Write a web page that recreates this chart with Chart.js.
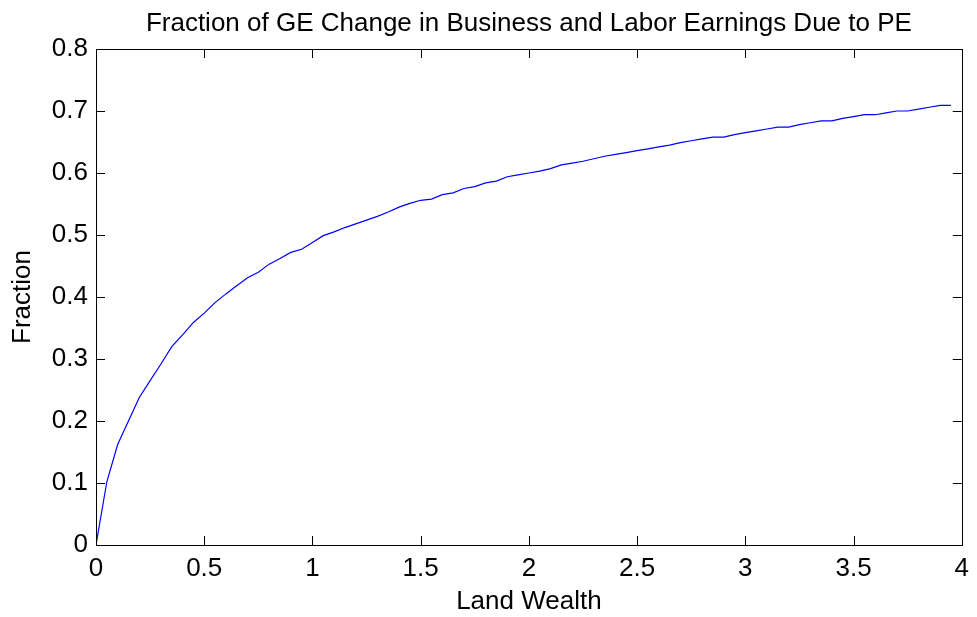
<!DOCTYPE html>
<html>
<head>
<meta charset="utf-8">
<script src="https://cdn.jsdelivr.net/npm/chart.js@4"></script>
<style>
  html, body { margin: 0; padding: 0; background: #fff; }
  #wrap { width: 977px; height: 617px; }
</style>
</head>
<body>
<div id="wrap"><canvas id="c"></canvas></div>
<script>
// land wealth grid (step 0.05) and fraction
const landWealth = [
  0, 0.05, 0.1, 0.15, 0.2, 0.25, 0.3, 0.35, 0.4, 0.45,
  0.5, 0.55, 0.6, 0.65, 0.7, 0.75, 0.8, 0.85, 0.9, 0.95,
  1, 1.05, 1.1, 1.15, 1.2, 1.25, 1.3, 1.35, 1.4, 1.45,
  1.5, 1.55, 1.6, 1.65, 1.7, 1.75, 1.8, 1.85, 1.9, 1.95,
  2, 2.05, 2.1, 2.15, 2.2, 2.25, 2.3, 2.35, 2.4, 2.45,
  2.5, 2.55, 2.6, 2.65, 2.7, 2.75, 2.8, 2.85, 2.9, 2.95,
  3, 3.05, 3.1, 3.15, 3.2, 3.25, 3.3, 3.35, 3.4, 3.45,
  3.5, 3.55, 3.6, 3.65, 3.7, 3.75, 3.8, 3.85, 3.9, 3.95
];
const fraction = [
  0, 0.102, 0.162, 0.200, 0.238, 0.265, 0.292, 0.320, 0.339, 0.359,
  0.374, 0.391, 0.405, 0.418, 0.431, 0.440, 0.453, 0.462, 0.472, 0.477,
  0.488, 0.499, 0.505, 0.512, 0.518, 0.524, 0.530, 0.537, 0.545, 0.551,
  0.556, 0.558, 0.565, 0.568, 0.575, 0.578, 0.584, 0.587, 0.594, 0.597,
  0.600, 0.603, 0.607, 0.613, 0.616, 0.619, 0.623, 0.627, 0.630, 0.633,
  0.636, 0.639, 0.642, 0.645, 0.649, 0.652, 0.655, 0.658, 0.658, 0.662,
  0.665, 0.668, 0.671, 0.674, 0.674, 0.678, 0.681, 0.684, 0.684, 0.688,
  0.691, 0.694, 0.694, 0.697, 0.700, 0.700, 0.703, 0.706, 0.709, 0.709
];
const xTicks = [0, 0.5, 1, 1.5, 2, 2.5, 3, 3.5, 4];
const yTicks = [0, 0.1, 0.2, 0.3, 0.4, 0.5, 0.6, 0.7, 0.8];

const FONT = "'Liberation Sans', Arial, Helvetica, sans-serif";
const FS = 26;

// matlab style box with inward ticks, plus the title
const boxPlugin = {
  id: "matlabBox",
  afterDraw(chart) {
    const ctx = chart.ctx;
    const a = chart.chartArea;
    const xs = chart.scales.x;
    const ys = chart.scales.y;
    const len = 9;
    ctx.save();
    ctx.strokeStyle = "#000";
    ctx.lineWidth = 1;
    ctx.beginPath();
    xTicks.forEach((v) => {
      const px = Math.round(xs.getPixelForValue(v)) + 0.5;
      ctx.moveTo(px, a.bottom);
      ctx.lineTo(px, a.bottom - len);
      ctx.moveTo(px, a.top);
      ctx.lineTo(px, a.top + len);
    });
    yTicks.forEach((v) => {
      const py = Math.round(ys.getPixelForValue(v)) + 0.5;
      ctx.moveTo(a.left, py);
      ctx.lineTo(a.left + len, py);
      ctx.moveTo(a.right, py);
      ctx.lineTo(a.right - len, py);
    });
    ctx.stroke();
    ctx.strokeRect(Math.round(a.left) + 0.5, Math.round(a.top) + 0.5,
      Math.round(a.right - a.left), Math.round(a.bottom - a.top));
    ctx.fillStyle = "#000";
    ctx.font = FS + "px " + FONT;
    ctx.textAlign = "center";
    ctx.textBaseline = "middle";
    ctx.fillText("Fraction of GE Change in Business and Labor Earnings Due to PE",
      (a.left + a.right) / 2, 24);
    ctx.restore();
  },
};

new Chart(document.getElementById("c"), {
  type: "line",
  data: {
    datasets: [
      {
        data: landWealth.map((x, i) => ({ x: x, y: fraction[i] })),
        borderColor: "#0000ff",
        borderWidth: 1.2,
        pointRadius: 0,
        tension: 0,
        fill: false,
      },
    ],
  },
  options: {
    responsive: true,
    maintainAspectRatio: false,
    animation: false,
    layout: { padding: { left: 0, right: 14, top: 49, bottom: 0 } },
    plugins: { legend: { display: false }, tooltip: { enabled: false }, title: { display: false } },
    scales: {
      x: {
        type: "linear",
        min: 0,
        max: 4,
        afterBuildTicks: (s) => { s.ticks = xTicks.map((v) => ({ value: v })); },
        afterFit: (s) => { s.height = 72; },
        grid: { display: false, drawTicks: false },
        border: { display: false },
        ticks: { color: "#000", font: { family: FONT, size: FS }, padding: 8, maxRotation: 0, callback: (v) => String(v) },
        title: { display: true, text: "Land Wealth", color: "#000", font: { family: FONT, size: FS }, padding: { top: 0, bottom: 0 } },
      },
      y: {
        type: "linear",
        min: 0,
        max: 0.8,
        afterBuildTicks: (s) => { s.ticks = yTicks.map((v) => ({ value: v })); },
        afterFit: (s) => { s.width = 96; },
        grid: { display: false, drawTicks: false },
        border: { display: false },
        ticks: { color: "#000", font: { family: FONT, size: FS }, padding: 8, callback: (v) => String(v) },
        title: { display: true, text: "Fraction", color: "#000", font: { family: FONT, size: FS }, padding: { top: 7, bottom: 0 } },
      },
    },
  },
  plugins: [boxPlugin],
});
</script>
</body>
</html>
